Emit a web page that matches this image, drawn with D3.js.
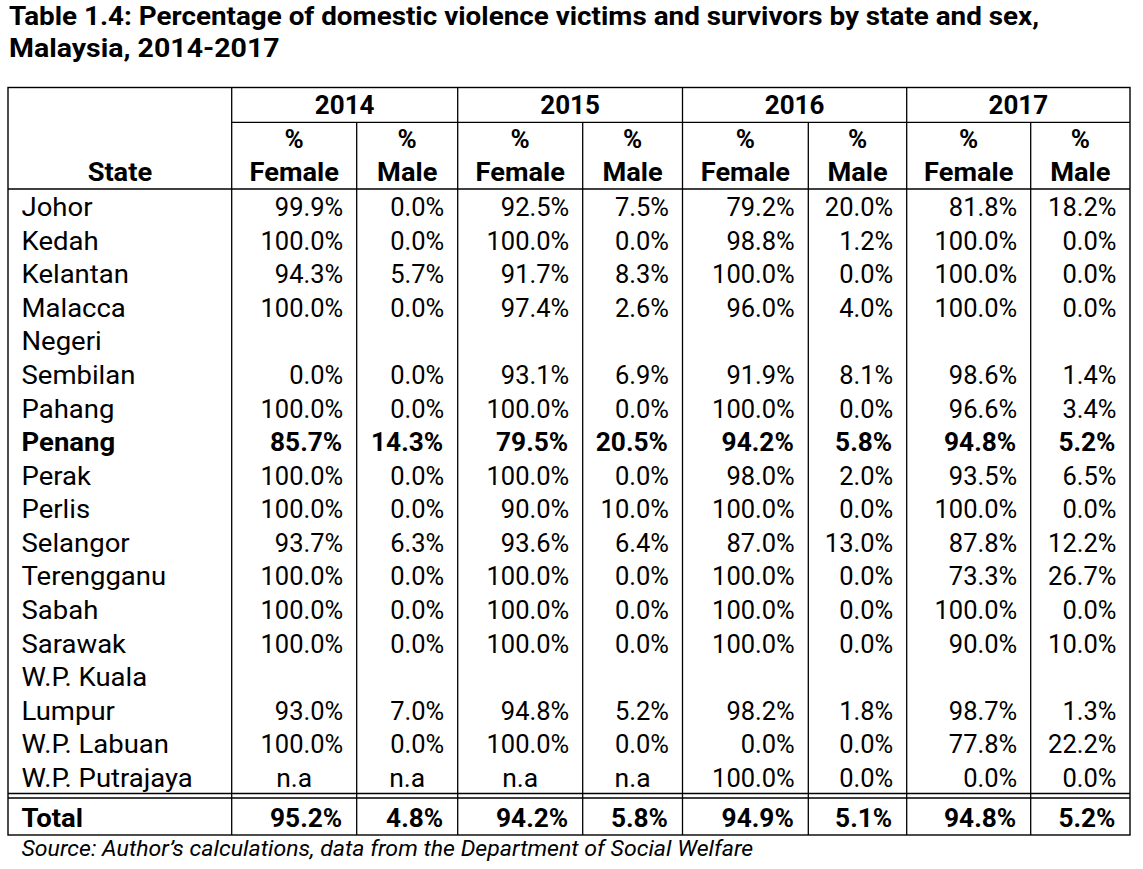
<!DOCTYPE html>
<html>
<head>
<meta charset="utf-8">
<script src="https://cdn.jsdelivr.net/npm/d3@7"></script>
<style>
  html, body { margin: 0; padding: 0; background: #fff; }
  svg { display: block; font-family: Roboto, "Noto Sans", sans-serif; }
</style>
</head>
<body>
<svg id="chart" width="1143" height="869"></svg>
<script>
// ---- data ----
const titleLines = [
  "Table 1.4: Percentage of domestic violence victims and survivors by state and sex,",
  "Malaysia, 2014-2017"
];
const years = ["2014", "2015", "2016", "2017"];
const subHeaders = ["Female", "Male"];
const states = [
  ["Johor"], ["Kedah"], ["Kelantan"], ["Malacca"], ["Negeri", "Sembilan"], ["Pahang"],
  ["Penang"], ["Perak"], ["Perlis"], ["Selangor"], ["Terengganu"], ["Sabah"], ["Sarawak"],
  ["W.P. Kuala", "Lumpur"], ["W.P. Labuan"], ["W.P. Putrajaya"]
];
const boldStates = ["Penang"];
const female2014 = [99.9, 100, 94.3, 100, 0, 100, 85.7, 100, 100, 93.7, 100, 100, 100, 93.0, 100, null];
const male2014   = [0, 0, 5.7, 0, 0, 0, 14.3, 0, 0, 6.3, 0, 0, 0, 7.0, 0, null];
const female2015 = [92.5, 100, 91.7, 97.4, 93.1, 100, 79.5, 100, 90.0, 93.6, 100, 100, 100, 94.8, 100, null];
const male2015   = [7.5, 0, 8.3, 2.6, 6.9, 0, 20.5, 0, 10.0, 6.4, 0, 0, 0, 5.2, 0, null];
const female2016 = [79.2, 98.8, 100, 96.0, 91.9, 100, 94.2, 98.0, 100, 87.0, 100, 100, 100, 98.2, 0, 100];
const male2016   = [20.0, 1.2, 0, 4.0, 8.1, 0, 5.8, 2.0, 0, 13.0, 0, 0, 0, 1.8, 0, 0];
const female2017 = [81.8, 100, 100, 100, 98.6, 96.6, 94.8, 93.5, 100, 87.8, 73.3, 100, 90.0, 98.7, 77.8, 0];
const male2017   = [18.2, 0, 0, 0, 1.4, 3.4, 5.2, 6.5, 0, 12.2, 26.7, 0, 10.0, 1.3, 22.2, 0];
const totalLabel = "Total";
const totals = [95.2, 4.8, 94.2, 5.8, 94.9, 5.1, 94.8, 5.2];
const sourceText = "Source: Author’s calculations, data from the Department of Social Welfare";

const series = [female2014, male2014, female2015, male2015, female2016, male2016, female2017, male2017];

// ---- layout ----
const svg = d3.select("#chart");
const fmt = v => v == null ? "n.a" : d3.format(".1f")(v) + "%";

const colEdges = [8, 231.7, 356.7, 457.7, 582.7, 682.5, 808.3, 906.7, 1030.7, 1130];
const tLeft = colEdges[0], tRight = colEdges[colEdges.length - 1];
const tTop = 87.5, headMid = 122.3, headBottom = 189;

const nLines = d3.sum(states, s => s.length);
const yLine = d3.scaleLinear().domain([0, nLines]).range([headBottom, 793.5]);
const dataBottom = 793.5, total2 = 798, totalBottom = 835;

const fontSize = 25;
const pad = 13.5, padBold = 14.5;

// place a text at (x,y) with horizontal stretch sx
function put(parent, str, x, y, sx, opts = {}) {
  const t = parent.append("text")
    .attr("transform", `translate(${x},${y}) scale(${sx},1)`)
    .text(str);
  if (opts.anchor) t.attr("text-anchor", opts.anchor);
  if (opts.weight) t.attr("font-weight", opts.weight);
  return t;
}

// title
const titleG = svg.append("g").attr("font-size", 25).attr("font-weight", "bold").attr("fill", "#000");
put(titleG, titleLines[0], 9, 25, 1.113);
put(titleG, titleLines[1], 9, 57, 1.14);

// grid lines
const g = svg.append("g").attr("stroke", "#000").attr("fill", "none");
g.append("rect").attr("x", tLeft).attr("y", tTop).attr("width", tRight - tLeft).attr("height", totalBottom - tTop).attr("stroke-width", 1.4);
colEdges.slice(1, -1).forEach((x, i) => {
  const isYear = (i % 2 === 0);
  g.append("line").attr("x1", x).attr("x2", x)
    .attr("y1", isYear ? tTop : headMid).attr("y2", totalBottom).attr("stroke-width", 1.3);
});
g.append("line").attr("x1", colEdges[1]).attr("x2", tRight).attr("y1", headMid).attr("y2", headMid).attr("stroke-width", 1.3);
g.append("line").attr("x1", tLeft).attr("x2", tRight).attr("y1", headBottom).attr("y2", headBottom).attr("stroke-width", 1.3);
g.append("line").attr("x1", tLeft).attr("x2", tRight).attr("y1", dataBottom).attr("y2", dataBottom).attr("stroke-width", 1.6);
g.append("line").attr("x1", tLeft).attr("x2", tRight).attr("y1", total2).attr("y2", total2).attr("stroke-width", 1.6);

// header text
const th = svg.append("g").attr("font-size", fontSize).attr("font-weight", "bold").attr("fill", "#000").attr("text-anchor", "middle");
years.forEach((y, i) => {
  put(th, y, (colEdges[1 + 2 * i] + colEdges[3 + 2 * i]) / 2, 114, 1.04);
});
for (let c = 0; c < 8; c++) {
  const cx = (colEdges[1 + c] + colEdges[2 + c]) / 2;
  put(th, "%", cx, 148, 1.04);
  put(th, subHeaders[c % 2], cx, 181, 1.088);
}
put(th, "State", (colEdges[0] + colEdges[1]) / 2, 181, 1.09);

// data rows
let lineIdx = 0;
const body = svg.append("g").attr("font-size", fontSize).attr("fill", "#000");
states.forEach((s, r) => {
  const bold = boldStates.includes(s[0]);
  const w = bold ? "bold" : "normal";
  s.forEach((part, k) => {
    put(body, part, 21.5, yLine(lineIdx + k) + 27, 1.1, { weight: w });
  });
  const lastLine = lineIdx + s.length - 1;
  series.forEach((arr, c) => {
    const v = arr[r];
    const y = yLine(lastLine) + 27;
    if (v == null) {
      put(body, fmt(v), (colEdges[1 + c] + colEdges[2 + c]) / 2, y, 1.06, { weight: w, anchor: "middle" });
    } else {
      put(body, fmt(v), colEdges[2 + c] - (bold ? padBold : pad), y, bold ? 1.05 : 1.02, { weight: w, anchor: "end" });
    }
  });
  lineIdx += s.length;
});

// total row
const tr = svg.append("g").attr("font-size", fontSize).attr("font-weight", "bold").attr("fill", "#000");
put(tr, totalLabel, 21.5, 827, 1.1);
totals.forEach((v, c) => {
  put(tr, fmt(v), colEdges[2 + c] - padBold, 827, 1.05, { anchor: "end" });
});

// source
const src = svg.append("g").attr("font-size", 22).attr("font-style", "italic").attr("fill", "#000");
put(src, sourceText, 21.5, 856, 1.05);
</script>
</body>
</html>
